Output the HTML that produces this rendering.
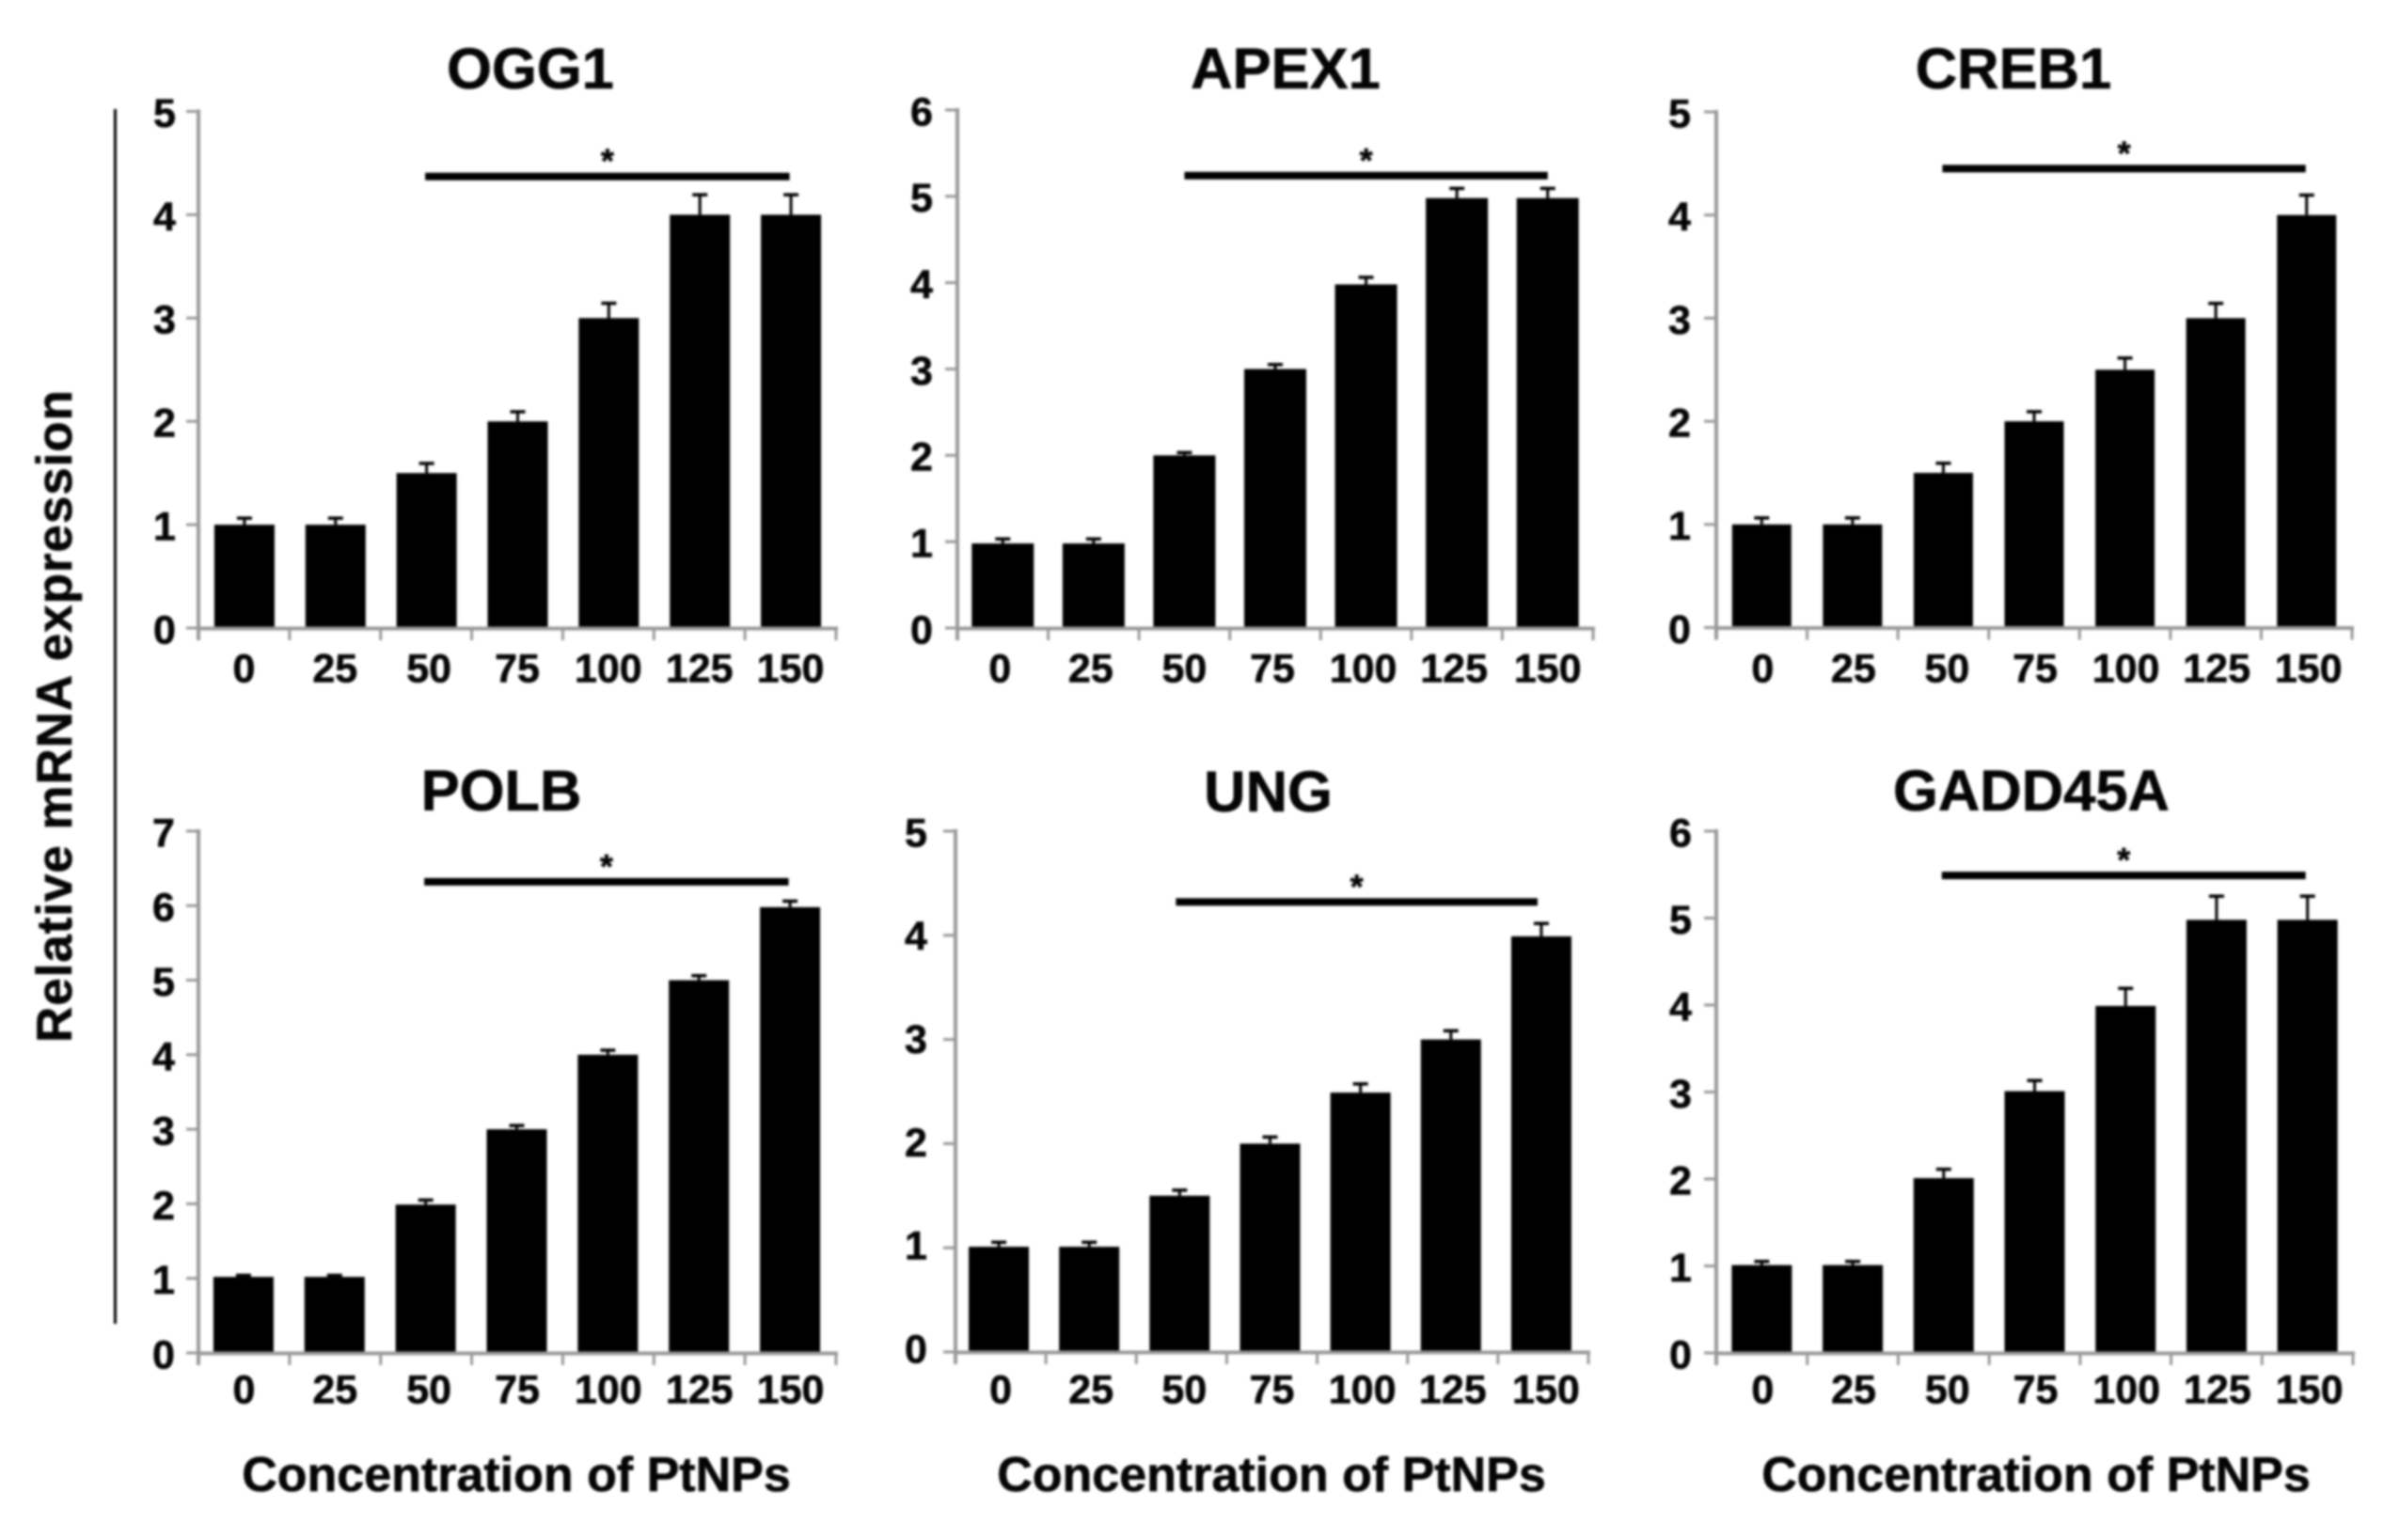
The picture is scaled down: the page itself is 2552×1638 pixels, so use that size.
<!DOCTYPE html>
<html lang="en">
<head>
<meta charset="utf-8">
<title>Relative mRNA expression by concentration of PtNPs</title>
<style>
html,body{margin:0;padding:0;background:#fff;}
#figure{display:block;width:2552px;height:1638px;filter:blur(1.2px);}
text{font-family:"Liberation Sans",Arial,sans-serif;font-weight:bold;fill:#050505;stroke:#050505;stroke-width:0.6px;}
.panel-title{font-size:61.5px;text-anchor:middle;}
.x-title{font-size:52px;text-anchor:middle;}
.y-title{font-size:53px;}
.tick-label{font-size:43px;text-anchor:middle;}
.sig-star{font-size:36px;text-anchor:middle;}
</style>
</head>
<body>
<svg id="figure" xmlns="http://www.w3.org/2000/svg" width="2552" height="1638" viewBox="0 0 2552 1638">
  <rect x="0" y="0" width="2552" height="1638" fill="#ffffff"></rect>
  <text class="y-title" transform="translate(76,1109) rotate(-90)" textLength="694" lengthAdjust="spacing">Relative mRNA expression</text>
  <rect x="121" y="116" width="3" height="1292" fill="#000000"></rect>

  <g id="panel-ogg1">
    <text class="panel-title" x="564" y="94">OGG1</text>
  </g>
  <g id="panel-apex1">
    <text class="panel-title" x="1367" y="94">APEX1</text>
  </g>
  <g id="panel-creb1">
    <text class="panel-title" x="2141" y="94">CREB1</text>
  </g>
  <g id="panel-polb">
    <text class="panel-title" x="533" y="862">POLB</text>
    <text class="x-title" x="549" y="1586">Concentration of PtNPs</text>
  </g>
  <g id="panel-ung">
    <text class="panel-title" x="1348.5" y="863">UNG</text>
    <text class="x-title" x="1352" y="1586">Concentration of PtNPs</text>
  </g>
  <g id="panel-gadd45a">
    <text class="panel-title" x="2160" y="862">GADD45A</text>
    <text class="x-title" x="2165" y="1586">Concentration of PtNPs</text>
  </g>
</svg>

<script>
// Shared categories
const categories = ["0", "25", "50", "75", "100", "125", "150"];

// OGG1
const ogg1Values = [1, 1, 1.5, 2, 3, 4, 4];
const ogg1Errors = [0.07, 0.07, 0.1, 0.1, 0.15, 0.2, 0.2];
const ogg1Ticks = [0, 1, 2, 3, 4, 5];
const ogg1Significance = 4.37;

// APEX1
const apex1Values = [0.98, 0.98, 2, 3, 3.98, 4.98, 4.98];
const apex1Errors = [0.06, 0.06, 0.04, 0.06, 0.09, 0.12, 0.12];
const apex1Ticks = [0, 1, 2, 3, 4, 5, 6];
const apex1Significance = 5.24;

// CREB1
const creb1Values = [1, 1, 1.5, 2, 2.5, 3, 4];
const creb1Errors = [0.07, 0.07, 0.1, 0.1, 0.12, 0.15, 0.2];
const creb1Ticks = [0, 1, 2, 3, 4, 5];
const creb1Significance = 4.45;

// POLB
const polbValues = [1.02, 1.02, 1.99, 3, 4, 5, 5.98];
const polbErrors = [0.03, 0.03, 0.07, 0.06, 0.07, 0.07, 0.09];
const polbTicks = [0, 1, 2, 3, 4, 5, 6, 7];
const polbSignificance = 6.32;

// UNG
const ungValues = [1.01, 1.01, 1.5, 2, 2.49, 3, 3.99];
const ungErrors = [0.05, 0.05, 0.06, 0.07, 0.09, 0.09, 0.13];
const ungTicks = [0, 1, 2, 3, 4, 5];
const ungSignificance = 4.32;

// GADD45A
const gadd45aValues = [1.01, 1.01, 2.01, 3.01, 3.99, 4.98, 4.98];
const gadd45aErrors = [0.05, 0.05, 0.11, 0.13, 0.21, 0.28, 0.28];
const gadd45aTicks = [0, 1, 2, 3, 4, 5, 6];
const gadd45aSignificance = 5.49;

const SVG_NS = "http://www.w3.org/2000/svg";
const AXIS_COLOR = "#999999";

const panels = [
  { key: "ogg1", values: ogg1Values, errors: ogg1Errors, ticks: ogg1Ticks, significance: ogg1Significance,
    x0: 211, x1: 889, yBase: 668, yTop: 118.5, barWidth: 64, barDx: 0.5, labelDx: 0, fiftyNudge: 3, lastNudge: 0, yLabelDx: -36, yLabelSag: 0, labelY: 710, sigDx: -1 },
  { key: "apex1", values: apex1Values, errors: apex1Errors, ticks: apex1Ticks, significance: apex1Significance,
    x0: 1018, x1: 1694, yBase: 668, yTop: 117, barWidth: 66, barDx: 0, labelDx: -3, fiftyNudge: 3, lastNudge: 3, yLabelDx: -38, yLabelSag: 0, labelY: 710, sigDx: 0 },
  { key: "creb1", values: creb1Values, errors: creb1Errors, ticks: creb1Ticks, significance: creb1Significance,
    x0: 1825, x1: 2501, yBase: 667.5, yTop: 119, barWidth: 63, barDx: 0, labelDx: 1, fiftyNudge: 3, lastNudge: 1, yLabelDx: -39, yLabelSag: 0, labelY: 710, sigDx: -1 },
  { key: "polb", values: polbValues, errors: polbErrors, ticks: polbTicks, significance: polbSignificance,
    x0: 211, x1: 889, yBase: 1439, yTop: 884, barWidth: 64, barDx: -0.5, labelDx: 0, fiftyNudge: 3, lastNudge: 0, yLabelDx: -37, yLabelSag: 0, labelY: 1477, sigDx: -2 },
  { key: "ung", values: ungValues, errors: ungErrors, ticks: ungTicks, significance: ungSignificance,
    x0: 1016, x1: 1689, yBase: 1438, yTop: 884, barWidth: 64, barDx: -2, labelDx: 0, fiftyNudge: 3, lastNudge: 3, yLabelDx: -42, yLabelSag: -5, labelY: 1477, sigDx: -6 },
  { key: "gadd45a", values: gadd45aValues, errors: gadd45aErrors, ticks: gadd45aTicks, significance: gadd45aSignificance,
    x0: 1825, x1: 2502, yBase: 1439, yTop: 884, barWidth: 64, barDx: 0, labelDx: 1, fiftyNudge: 3, lastNudge: 1, yLabelDx: -38, yLabelSag: 0, labelY: 1477, sigDx: -2 }
];

function xBand(p, i) {
  return p.x0 + (p.x1 - p.x0) * (i + 0.5) / categories.length;
}
function xEdge(p, i) {
  return p.x0 + (p.x1 - p.x0) * i / categories.length;
}
function yScale(p, v) {
  const max = p.ticks[p.ticks.length - 1];
  return p.yBase - (p.yBase - p.yTop) * v / max;
}
function rectEl(x, y, w, h, fill) {
  const r = document.createElementNS(SVG_NS, "rect");
  r.setAttribute("x", x);
  r.setAttribute("y", y);
  r.setAttribute("width", w);
  r.setAttribute("height", h);
  r.setAttribute("fill", fill);
  return r;
}
function textEl(cls, x, y, str) {
  const t = document.createElementNS(SVG_NS, "text");
  t.setAttribute("class", cls);
  t.setAttribute("x", x);
  t.setAttribute("y", y);
  t.textContent = str;
  return t;
}

panels.forEach(function (p) {
  const group = document.getElementById("panel-" + p.key);
  const yMax = p.ticks[p.ticks.length - 1];

  // bars and error bars
  p.values.forEach(function (v, i) {
    const cx = xBand(p, i) + p.barDx;
    const top = yScale(p, v);
    const bar = rectEl(cx - p.barWidth / 2, top, p.barWidth, p.yBase - top, "#000000");
    
    
    group.appendChild(bar);

    const capY = yScale(p, v + p.errors[i]);
    const stem = rectEl(cx - 1.5, capY, 3, top - capY, "#000000");
    
    
    group.appendChild(stem);

    const cap = rectEl(cx - 8, capY - 1, 16, 3.5, "#000000");
    
    
    group.appendChild(cap);

    let nudge = 0;
    if (i === 2) { nudge = p.fiftyNudge; }
    if (i === 6) { nudge = p.lastNudge; }
    const label = textEl("tick-label", xBand(p, i) + p.labelDx + nudge, p.labelY + 15.4, categories[i]);
    
    
    group.appendChild(label);
  });

  // y axis
  const yAxis = rectEl(p.x0 - 2, p.yTop - 2, 4, p.yBase - p.yTop + 15, AXIS_COLOR);
  
  
  group.appendChild(yAxis);

  p.ticks.forEach(function (t) {
    const ty = yScale(p, t);
    const tick = rectEl(p.x0 - 13, ty - 1.5, 13, 3, AXIS_COLOR);
    
    
    group.appendChild(tick);

    const sag = p.yLabelSag * (1 - t / yMax);
    const label = textEl("tick-label", p.x0 + p.yLabelDx, ty + 16.4 + sag, String(t));
    
    
    group.appendChild(label);
  });

  // x axis
  const xAxis = rectEl(p.x0 - 2, p.yBase - 1.5, p.x1 - p.x0 + 4, 4, AXIS_COLOR);
  
  
  group.appendChild(xAxis);

  for (let i = 1; i <= categories.length; i++) {
    const xt = rectEl(xEdge(p, i) - 1.5, p.yBase, 3, 13, AXIS_COLOR);
    
    
    group.appendChild(xt);
  }

  // significance bar spans the 50 to 150 categories
  const sigStart = xBand(p, 2) + p.sigDx;
  const sigEnd = xBand(p, 6) + p.sigDx;
  const sigY = yScale(p, p.significance);
  const sigBar = rectEl(sigStart, sigY - 4, sigEnd - sigStart, 8, "#000000");
  
  
  group.appendChild(sigBar);

  const star = textEl("sig-star", (sigStart + sigEnd) / 2, sigY - 4, "*");
  
  
  group.appendChild(star);
});
</script>
</body>
</html>
